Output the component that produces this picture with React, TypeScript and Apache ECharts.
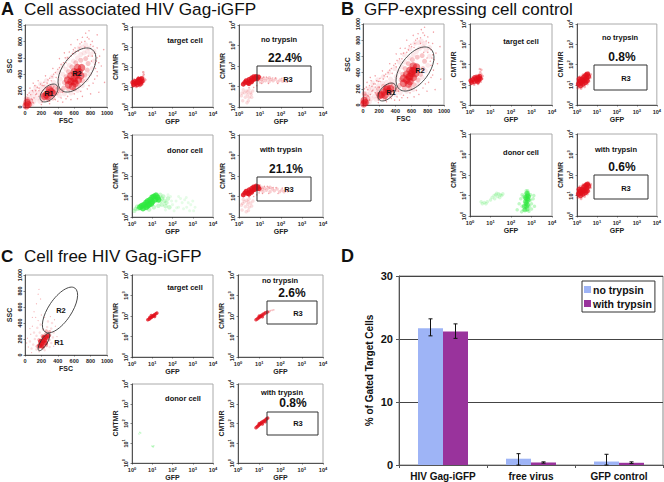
import React, { useEffect, useRef } from "react";
import * as echarts from "echarts";

type P = number[][];
const FONT = "Liberation Sans";
const RED = "#e2101c";
const GREEN = "#2ee83e";

// ---------- data ----------
const fscTicks = [0, 200, 400, 600, 800, 1000];

// Panel A, FSC / SSC
const aScDense: P = [[530,270],[560,310],[600,350],[630,390],[660,430],[690,480],[610,290],[650,330],[560,380],[600,430],[640,480],[520,330],[580,250],[680,380],[600,310],[640,420],[260,150],[290,170],[320,190],[340,170],[280,130],[240,130],[300,210],[15,15],[35,30],[25,55]];
const aScMid: P = [[470,230],[480,300],[500,370],[530,430],[570,490],[620,540],[680,570],[740,590],[770,530],[760,450],[730,390],[700,320],[650,260],[600,220],[530,220],[440,200],[400,220],[380,170],[370,240],[210,150],[220,100],[280,90],[340,110],[330,250],[260,220],[60,30],[70,70],[40,90],[15,100]];
const aScHaze: P = [[800,640],[760,680],[720,660],[680,640],[640,600],[590,560],[540,510],[500,460],[460,400],[430,340],[410,280],[350,300],[300,260],[250,250],[200,220],[170,170],[150,110],[180,70],[110,70],[100,130],[120,190],[90,40],[840,560],[820,470],[790,400],[750,330],[700,260],[640,200],[560,170],[480,160],[420,140],[740,760],[780,720],[700,730],[840,680],[660,720],[600,660],[520,590],[460,500],[400,420],[330,370],[260,320],[190,280],[130,240],[80,180],[50,120]];
const aScSpeck: P = [[700,850],[760,850],[820,800],[880,720],[910,620],[930,500],[880,430],[850,340],[780,260],[660,720],[620,680],[580,650],[520,600],[470,540],[420,480],[370,420],[330,370],[280,330],[230,300],[190,280],[150,240],[120,260],[90,200],[70,150],[50,170],[30,150],[780,930],[640,820],[560,760],[480,660],[880,880],[960,700],[970,300],[900,180],[800,160],[700,130],[640,100],[560,90],[460,60],[400,70],[300,40],[200,30],[420,590],[340,470],[250,380],[160,320],[100,290],[60,230]];
const aScGrain: P = [[730,800],[690,790],[800,760],[860,650],[870,560],[900,540],[860,470],[810,560],[770,620],[730,730],[650,680],[610,720],[560,620],[500,540],[440,520],[400,460],[350,400],[300,350],[210,260],[170,230],[130,200],[140,160],[110,110],[80,100],[60,60],[100,50],[210,60],[300,70],[370,90],[440,110],[520,130],[600,160],[680,190],[760,220],[830,290],[880,380],[780,830],[830,740],[740,900],[670,770],[590,700],[540,670],[490,600],[430,440],[380,360],[320,320],[270,290],[230,260],[170,130],[130,150],[90,90],[500,100],[410,180],[460,180],[350,200],[220,200],[170,200],[850,520],[820,620],[880,600]];

// Panel A, target cell
const aTargetCore: P = [[1.2,13],[1.4,19],[1.5,15],[1.8,13],[1.9,21],[2.2,16],[2.5,24],[2.8,18],[3,26],[2.3,20],[1.7,17],[1.1,17],[3.2,20],[2.6,14],[2.1,25]];
const aTargetHalo: P = [[1.1,11],[1.6,10],[2.4,11],[3.3,14],[4,19],[4,26],[3.5,33],[2.8,31],[2,30],[1.3,24],[4.6,23],[3.8,42],[3.6,55]];

// Panel A, no trypsin
const aNoCore: P = [[1.6,13],[1.9,16],[2.2,19],[2.6,15],[3,22],[3.5,18],[4,26],[4.5,21],[5,30],[5.5,23],[6.5,31],[7.5,24],[3,14],[4,17],[8.5,29],[6,26]];
const aNoMid: P = [[9,20],[11,27],[13,17],[15,25],[18,19],[22,24],[27,17],[33,22],[42,19],[55,23],[70,17],[90,21],[120,18],[160,19],[12,22],[28,27]];
const aNoLow: P = [[1.5,2],[2,3],[2.5,4],[1.8,5],[3,3],[2.2,6],[3.5,5],[2.8,2],[1.3,3.5],[4,3],[3,7],[1.6,7],[2.4,1.6],[4.5,6],[1.4,4.8],[2.6,5.4],[3.8,4.2]];
const aNoSpeck: P = [[10,15],[15,29],[25,14],[40,26],[70,14],[150,23],[200,16],[9,34],[20,29],[55,26],[12,14],[110,25],[250,19],[5,9],[7,11],[3,9],[190,21]];

// Panel A, donor cell
const aDonorCore: P = [[2.5,3],[3,3.5],[4,4],[5,5],[6,6],[8,7],[10,9],[12,10],[15,11],[18,9],[14,7],[10,5.5],[7,4],[5,3],[20,7],[3.5,2.6],[9,4.5],[6,3.6]];
const aDonorMid: P = [[25,6],[30,8],[40,6],[50,5],[30,4],[20,3.5],[12,3],[7,2.3],[2,2.5],[1.5,2.5],[1.3,2],[60,8],[70,3],[25,12],[1.8,3.2],[45,3.4],[35,10],[16,13]];
const aDonorHaze: P = [[100,4],[150,6],[200,3],[300,5],[500,3],[800,4],[1000,6],[120,2],[400,7],[80,10],[700,2],[45,2.2],[250,8],[600,5],[90,6],[160,2.8],[1300,3],[350,2.5],[1100,2],[60,12],[200,10],[480,9]];

// Panel A, with trypsin
const aWithCore: P = [[1.6,12],[1.9,15],[2.2,18],[2.6,14],[3,21],[3.5,17],[4,25],[4.5,20],[5,29],[5.5,22],[6.5,32],[7,24],[3,13],[4,16],[8,30],[9,24],[6,27]];
const aWithMid: P = [[10,20],[12,28],[14,17],[17,25],[20,20],[25,26],[30,17],[38,23],[48,19],[65,23],[85,17],[110,21],[140,17],[180,20],[13,23],[30,28]];
const aWithLow: P = [[1.4,2.2],[2,3.2],[2.6,4.2],[1.8,5.5],[3,3],[2.3,6.5],[3.6,4.8],[2.8,2.1],[1.3,3.8],[4,3.4],[3,7.5],[1.6,7.2],[2.2,1.8],[4.6,6],[1.5,4.6],[2.7,5.6]];
const aWithSpeck: P = [[9,15],[16,31],[26,14],[42,27],[72,14],[160,24],[210,17],[10,36],[22,31],[58,27],[13,14],[115,26],[240,20],[5,10],[7,12],[3,9.5]];

// Panel B, FSC / SSC
const bScDense: P = [[500,270],[540,310],[570,350],[600,390],[630,430],[660,470],[580,290],[620,340],[540,380],[580,430],[620,480],[500,330],[560,260],[650,390],[580,350],[610,420],[230,130],[260,160],[290,190],[320,170],[270,120],[210,120],[300,210],[340,200],[10,15],[25,30],[15,55]];
const bScMid: P = [[450,240],[470,310],[490,380],[520,450],[560,510],[610,560],[670,590],[730,610],[760,540],[740,450],[710,380],[680,310],[630,250],[580,210],[510,210],[420,190],[390,200],[370,240],[340,260],[180,140],[200,90],[270,80],[340,120],[250,230],[190,200],[50,30],[60,80],[30,110],[15,140]];
const bScHaze: P = [[780,680],[740,720],[700,700],[660,660],[620,620],[570,580],[520,530],[480,470],[440,410],[410,350],[390,290],[340,320],[290,280],[240,270],[190,240],[150,180],[140,110],[160,70],[100,80],[90,150],[110,210],[80,40],[820,600],[800,490],[770,420],[730,340],[680,260],[620,190],[540,170],[460,150],[400,130],[720,790],[760,760],[690,770],[820,710],[640,760],[580,690],[510,620],[450,530],[390,450],[320,400],[250,350],[180,310],[120,270],[70,200],[40,140]];
const bScSpeck: P = [[680,880],[740,890],[800,840],[860,760],[900,640],[920,510],[870,430],[840,340],[770,260],[640,760],[600,720],[560,680],[500,640],[450,570],[400,510],[350,450],[310,400],[260,360],[210,330],[170,300],[130,260],[100,300],[80,240],[60,190],[40,220],[20,200],[760,960],[620,860],[540,800],[460,700],[870,900],[950,720],[960,320],[890,190],[790,170],[690,130],[630,100],[550,90],[450,60],[390,60],[290,40],[190,30],[410,630],[330,510],[240,420],[150,360],[90,340],[50,280]];
const bScGrain: P = [[710,830],[670,820],[780,790],[840,680],[850,580],[880,560],[840,490],[790,580],[750,650],[710,760],[630,710],[590,750],[540,650],[480,570],[420,550],[380,490],[330,430],[280,380],[190,290],[150,260],[110,230],[120,180],[90,130],[60,120],[40,70],[80,60],[190,60],[280,60],[350,80],[420,100],[500,120],[580,150],[660,180],[740,210],[810,280],[860,370],[760,860],[810,770],[720,930],[650,800],[570,730],[520,700],[470,630],[410,470],[360,390],[300,350],[250,320],[210,290],[150,150],[110,170],[70,110],[480,90],[390,170],[440,170],[330,220],[200,220],[150,220],[830,540],[800,650],[860,620]];

// Panel B, target / no / with
const bTargetCore: P = [[1.2,13],[1.4,18],[1.6,14],[1.9,20],[2.1,16],[2.4,24],[2.7,17],[3,26],[3.2,20],[2.4,14],[1.7,23],[1.1,16],[2.8,22]];
const bTargetHalo: P = [[1.1,10.5],[1.6,10],[2.5,11],[3.4,14],[4,20],[4.2,27],[3.6,33],[3.2,42],[2.8,32],[2,29],[1.3,23],[3.6,55],[3,60]];
const bNoCore: P = [[1.2,11],[1.4,15],[1.6,13],[1.8,19],[2,16],[2.2,24],[2.5,17],[2.8,29],[3,21],[3.3,33],[1.5,9],[2,11],[1.3,19],[2.6,13],[3.7,26],[3.2,16]];
const bNoHalo: P = [[1.1,7],[1.6,6.5],[2.4,8],[3.3,11],[4,15],[4.6,22],[4.8,32],[3.8,39],[2.8,37],[2,31],[1.4,25],[1.1,15]];
const bWithCore: P = [[1.2,12],[1.4,16],[1.6,14],[1.8,20],[2,17],[2.2,26],[2.5,18],[2.8,31],[3,23],[3.3,35],[1.5,10],[2,12],[1.3,20],[2.6,14],[3.8,29],[3.2,17]];
const bWithHalo: P = [[1.1,8],[1.6,7],[2.4,9],[3.3,12],[4,16],[4.7,24],[4.8,35],[3.8,42],[2.8,39],[2,33],[1.4,27],[1.1,16]];
const bDonorCore: P = [[450,3],[500,5],[550,7],[600,9],[650,11],[600,5],[550,3],[700,6],[650,3.5],[500,8],[600,13],[620,2.2],[550,4],[700,9],[480,2],[650,7]];
const bDonorMid: P = [[200,2],[250,4],[300,7],[350,3],[400,9],[800,3],[900,6],[1000,4],[800,9],[1200,7],[400,2],[330,1.6],[750,1.7],[350,11],[1000,2.2],[1400,3],[700,14],[500,12],[550,17],[650,17],[1300,10],[900,11]];
const bDonorLeft: P = [[12,8],[15,10],[18,11],[22,9],[25,12],[30,11],[35,10],[16,7],[28,8],[10,6],[7,5],[5,4.5],[4,4],[3.5,5],[6,4],[20,13],[40,12]];

// Panel C, FSC / SSC
const cScDense: P = [[180,120],[200,140],[220,170],[240,190],[260,220],[280,240],[210,110],[250,150],[190,170],[230,220]];
const cScMid: P = [[150,110],[170,190],[210,240],[250,260],[300,250],[290,190],[260,120],[220,90],[170,90],[300,290],[260,300]];
const cScHaze: P = [[100,130],[120,200],[140,240],[180,280],[220,320],[270,350],[320,330],[350,280],[340,220],[320,150],[300,100],[240,60],[140,70],[80,80],[60,170],[110,280],[190,380],[280,420],[150,340],[330,400]];
const cScSpeck: P = [[40,100],[30,210],[70,260],[90,360],[160,430],[130,470],[200,500],[240,470],[310,480],[370,360],[390,230],[160,760],[170,820],[140,640],[110,540],[60,330],[20,150],[80,30],[170,40],[350,110],[400,170],[190,700],[90,470],[360,440]];

// Panel C, target / no / with / donor
const cTargetCore: P = [[6,65],[7,70],[8,80],[9,85],[10,95],[11,100],[12,110],[13,115],[15,130],[17,140],[9,105],[13,95],[7.5,85]];
const cNoCore: P = [[7,65],[8,72],[9,80],[10,85],[11,95],[12,100],[13,110],[15,120],[17,130],[20,145],[10,100],[14,92],[24,155]];
const cNoTail: P = [[28,170],[33,180],[40,190],[48,200],[24,130],[30,155],[18,160]];
const cWithCore: P = [[7,62],[8,70],[9,78],[10,88],[11,95],[12,105],[13,115],[15,125],[17,140],[20,155],[10,100],[14,95],[22,175],[25,190],[19,125]];
const cDonorSpeck: P = [[2.4,36],[2.7,33],[2.2,30],[10.7,7],[12,7.5],[11,6.5],[9.5,7.3]];

// Panel D
const barCategories = ["HIV Gag-iGFP", "free virus", "GFP control"];
const noTrypsin = [21.7, 1.0, 0.55];
const withTrypsin = [21.2, 0.4, 0.35];
const noTrypsinLow = [20.5, 0, 0];
const noTrypsinHigh = [23.2, 1.8, 1.7];
const withTrypsinLow = [20.1, 0.3, 0.25];
const withTrypsinHigh = [22.4, 0.5, 0.5];
const barTicks = [0, 10, 20, 30];

// ---------- layout helpers ----------
const grids: any[] = [];
const xAxes: any[] = [];
const yAxes: any[] = [];
const series: any[] = [];
const gfx: any[] = [];

const logFmt = (v: number) => `{b|10}{s|${Math.round(Math.log10(v))}}`;
const logRich = {
  b: { fontSize: 5.5, fontFamily: FONT, fontWeight: "bold", color: "#222" },
  s: { fontSize: 4, fontFamily: FONT, fontWeight: "bold", color: "#222", padding: [0, 0, 4, 0] },
};

function axisBase(name: string, gap: number, vertical: boolean) {
  return {
    name,
    nameLocation: "middle",
    nameGap: gap,
    nameTextStyle: { fontFamily: FONT, fontSize: 7, fontWeight: "bold", color: "#222" },
    axisLine: { show: true, onZero: false, lineStyle: { color: "#333", width: 0.8 } },
    axisTick: { show: true, length: 1.5, lineStyle: { color: "#333", width: 0.6 } },
    splitLine: { show: false },
    minorTick: { show: false },
    axisLabel: {
      fontFamily: FONT,
      fontSize: 5.5,
      fontWeight: "bold",
      color: "#222",
      margin: vertical ? 2.5 : 3,
      rotate: vertical ? 90 : 0,
      hideOverlap: false,
      showMinLabel: true,
      showMaxLabel: true,
    },
  };
}

function addPanel(box: number[], kind: "log" | "lin") {
  const [x0, y0, x1, y1] = box;
  const idx = grids.length;
  grids.push({
    show: true,
    borderColor: "#aaa",
    borderWidth: 1,
    backgroundColor: "transparent",
    left: x0,
    top: y0,
    width: x1 - x0,
    height: y1 - y0,
  });
  if (kind === "log") {
    const xb: any = axisBase("GFP", 10, false);
    const yb: any = axisBase("CMTMR", 13, true);
    const common = { type: "log", logBase: 10, min: 1, max: 10000 };
    xb.axisLabel.formatter = logFmt;
    xb.axisLabel.rich = logRich;
    yb.axisLabel.formatter = logFmt;
    yb.axisLabel.rich = logRich;
    xAxes.push({ ...common, ...xb, gridIndex: idx });
    yAxes.push({ ...common, ...yb, gridIndex: idx });
  } else {
    const xb: any = axisBase("FSC", 10, false);
    const yb: any = axisBase("SSC", 12, true);
    const common = { type: "value", min: fscTicks[0], max: fscTicks[fscTicks.length - 1], interval: fscTicks[1] };
    xb.axisLabel.formatter = (v: number) => String(v);
    yb.axisLabel.formatter = (v: number) => String(v);
    xAxes.push({ ...common, ...xb, gridIndex: idx });
    yAxes.push({ ...common, ...yb, gridIndex: idx });
  }
  return idx;
}

function dots(grid: number, pts: P, size: number, color: string, opacity: number) {
  series.push({
    type: "scatter",
    xAxisIndex: grid,
    yAxisIndex: grid,
    data: pts,
    symbol: "circle",
    symbolSize: size,
    silent: true,
    itemStyle: { color, opacity, borderWidth: 0 },
  });
}

function label(text: string, x: number, y: number, size: number, weight = "bold", align = "center") {
  gfx.push({
    type: "text",
    x,
    y,
    silent: true,
    z: 50,
    style: {
      text,
      fill: "#111",
      fontFamily: FONT,
      fontSize: size,
      fontWeight: weight,
      textAlign: align,
      textVerticalAlign: "middle",
    },
  });
}

function gateBox(x0: number, y0: number, x1: number, y1: number) {
  gfx.push({
    type: "rect",
    silent: true,
    z: 40,
    shape: { x: x0, y: y0, width: x1 - x0, height: y1 - y0 },
    style: { fill: "transparent", stroke: "#333", lineWidth: 1 },
  });
}

function gateEllipse(cx: number, cy: number, a: number, b: number, deg: number) {
  gfx.push({
    type: "ellipse",
    silent: true,
    z: 40,
    x: cx,
    y: cy,
    rotation: (deg * Math.PI) / 180,
    shape: { cx: 0, cy: 0, rx: a, ry: b },
    style: { fill: "transparent", stroke: "#333", lineWidth: 0.8 },
  });
}

// ---------- panel A ----------
const pa0 = addPanel([25, 25, 107, 107], "lin");
dots(pa0, aScHaze, 5, RED, 0.09);
dots(pa0, aScSpeck, 1.4, RED, 0.4);
dots(pa0, aScGrain, 1.4, RED, 0.4);
dots(pa0, aScMid, 5, RED, 0.24);
dots(pa0, aScDense, 7.5, RED, 0.55);
const pa1 = addPanel([132, 27, 213, 107], "log");
dots(pa1, aTargetHalo, 2.5, RED, 0.35);
dots(pa1, aTargetCore, 5, RED, 0.8);
const pa2 = addPanel([239, 25, 323, 107], "log");
dots(pa2, aNoLow, 3.5, RED, 0.14);
dots(pa2, aNoSpeck, 1.4, RED, 0.4);
dots(pa2, aNoMid, 3.5, RED, 0.2);
dots(pa2, aNoCore, 5, RED, 0.85);
const pa3 = addPanel([132, 135, 213, 217], "log");
dots(pa3, aDonorHaze, 3, GREEN, 0.12);
dots(pa3, aDonorMid, 4.5, GREEN, 0.25);
dots(pa3, aDonorCore, 6, GREEN, 0.8);
const pa4 = addPanel([239, 135, 323, 217], "log");
dots(pa4, aWithLow, 3.5, RED, 0.14);
dots(pa4, aWithSpeck, 1.4, RED, 0.4);
dots(pa4, aWithMid, 3.5, RED, 0.2);
dots(pa4, aWithCore, 5, RED, 0.85);
gateEllipse(77, 70, 25.5, 14, 53);
gateEllipse(49, 93, 11, 6.3, 45);
gateBox(257, 66, 311, 92);
gateBox(257, 177, 311, 201);
label("A", 1, 9, 18, "bold", "left");
label("Cell associated HIV Gag-iGFP", 24, 9, 17.2, "normal", "left");
label("R2", 77, 73, 7.5, "bold");
label("R1", 49, 93, 7.5, "bold");
label("target cell", 185, 40, 7.5);
label("no trypsin", 279, 39, 7.5);
label("22.4%", 285, 58, 12);
label("R3", 288, 79, 7.5);
label("donor cell", 185, 150, 7.5);
label("with trypsin", 281, 149, 7.5);
label("21.1%", 286, 169, 12);
label("R3", 289, 189, 7.5);

// ---------- panel B ----------
const pb0 = addPanel([363, 24, 444, 105], "lin");
dots(pb0, bScHaze, 5, RED, 0.09);
dots(pb0, bScSpeck, 1.4, RED, 0.4);
dots(pb0, bScGrain, 1.4, RED, 0.4);
dots(pb0, bScMid, 5, RED, 0.24);
dots(pb0, bScDense, 7.5, RED, 0.55);
const pb1 = addPanel([470, 24, 552, 105], "log");
dots(pb1, bTargetHalo, 2.5, RED, 0.3);
dots(pb1, bTargetCore, 5, RED, 0.75);
const pb2 = addPanel([577, 24, 660, 105], "log");
dots(pb2, bNoHalo, 3, RED, 0.3);
dots(pb2, bNoCore, 5.5, RED, 0.8);
const pb3 = addPanel([470, 134, 552, 216], "log");
dots(pb3, bDonorLeft, 3.5, GREEN, 0.2);
dots(pb3, bDonorMid, 3.5, GREEN, 0.3);
dots(pb3, bDonorCore, 5, GREEN, 0.55);
const pb4 = addPanel([577, 134, 660, 216], "log");
dots(pb4, bWithHalo, 3, RED, 0.3);
dots(pb4, bWithCore, 5.5, RED, 0.8);
gateEllipse(415, 69, 25.5, 14, 53);
gateEllipse(387, 92, 11, 6.3, 45);
gateBox(594, 65, 647, 90);
gateBox(594, 175, 648, 199);
label("B", 341, 9, 18, "bold", "left");
label("GFP-expressing cell control", 364, 9, 17, "normal", "left");
label("R2", 420, 70, 7.5);
label("R1", 391, 92, 7.5);
label("target cell", 521, 41, 7.5);
label("no trypsin", 620, 37, 7.5);
label("0.8%", 622, 57, 12);
label("R3", 626, 78, 7.5);
label("donor cell", 521, 152, 7.5);
label("with trypsin", 616, 149, 7.5);
label("0.6%", 622, 167, 12);
label("R3", 626, 188, 7.5);

// ---------- panel C ----------
const pc0 = addPanel([25, 275, 107, 355], "lin");
dots(pc0, cScSpeck, 1.2, RED, 0.3);
dots(pc0, cScHaze, 2.5, RED, 0.14);
dots(pc0, cScMid, 3.5, RED, 0.3);
dots(pc0, cScDense, 5, RED, 0.8);
const pc1 = addPanel([132, 275, 213, 357], "log");
dots(pc1, cTargetCore, 3.5, RED, 0.75);
const pc2 = addPanel([238, 275, 323, 357], "log");
dots(pc2, cNoTail, 1.6, RED, 0.3);
dots(pc2, cNoCore, 3.5, RED, 0.7);
const pc3 = addPanel([132, 384, 213, 467], "log");
dots(pc3, cDonorSpeck, 1.3, GREEN, 0.35);
const pc4 = addPanel([238, 384, 323, 467], "log");
dots(pc4, cWithCore, 3.5, RED, 0.75);
gateEllipse(60, 310, 26.5, 11.5, 56);
gateEllipse(44, 342, 10, 3.2, 59);
gateBox(267, 301, 317, 324);
gateBox(267, 412, 318, 435);
label("C", 1, 256, 17, "bold", "left");
label("Cell free HIV Gag-iGFP", 24, 256, 17, "normal", "left");
label("R2", 61, 310, 7.5);
label("R1", 59, 342, 7.5);
label("target cell", 185, 287, 7.5);
label("no trypsin", 280, 280, 7.5);
label("2.6%", 292, 293, 12);
label("R3", 298, 313, 7.5);
label("donor cell", 183, 398, 7.5);
label("with trypsin", 282, 392, 7.5);
label("0.8%", 293, 403, 12);
label("R3", 298, 423, 7.5);

// ---------- panel D ----------
label("D", 341, 256, 18, "bold", "left");
const dIdx = grids.length;
grids.push({ show: true, borderColor: "#888", borderWidth: 1, left: 399, top: 276, width: 264, height: 189 });
xAxes.push({
  type: "category",
  gridIndex: dIdx,
  data: barCategories,
  axisLine: { lineStyle: { color: "#555" } },
  axisTick: { show: true, length: 3, lineStyle: { color: "#555" } },
  axisLabel: { fontFamily: FONT, fontSize: 10, fontWeight: "bold", color: "#111", margin: 6, interval: 0 },
});
yAxes.push({
  type: "value",
  gridIndex: dIdx,
  min: barTicks[0],
  max: barTicks[barTicks.length - 1],
  interval: barTicks[1],
  name: "% of Gated Target Cells",
  nameLocation: "middle",
  nameGap: 25,
  nameTextStyle: { fontFamily: FONT, fontSize: 10, fontWeight: "bold", color: "#111" },
  axisLine: { show: true, lineStyle: { color: "#555" } },
  axisTick: { show: true, length: 3, lineStyle: { color: "#555" } },
  axisLabel: { fontFamily: FONT, fontSize: 11, fontWeight: "bold", color: "#111", margin: 6 },
  splitLine: { show: true, lineStyle: { color: "#444", width: 1 } },
});
const barColors = ["#9eb4f6", "#99339c"];
series.push(
  {
    type: "bar",
    name: "no trypsin",
    xAxisIndex: dIdx,
    yAxisIndex: dIdx,
    data: noTrypsin,
    barWidth: 25,
    barGap: "0%",
    itemStyle: { color: barColors[0] },
  },
  {
    type: "bar",
    name: "with trypsin",
    xAxisIndex: dIdx,
    yAxisIndex: dIdx,
    data: withTrypsin,
    barWidth: 25,
    barGap: "0%",
    itemStyle: { color: barColors[1] },
  },
);
function errorBars(low: number[], high: number[], offset: number) {
  series.push({
    type: "custom",
    xAxisIndex: dIdx,
    yAxisIndex: dIdx,
    silent: true,
    z: 10,
    data: low.map((l, i) => [i, l, high[i]]),
    renderItem: (_p: any, api: any) => {
      const a = api.coord([api.value(0), api.value(1)]);
      const b = api.coord([api.value(0), api.value(2)]);
      const x = a[0] + offset;
      const st = { stroke: "#111", lineWidth: 1, fill: "none" };
      const seg = (x1: number, y1: number, x2: number, y2: number) => ({
        type: "line",
        shape: { x1, y1, x2, y2 },
        style: st,
      });
      return {
        type: "group",
        children: [seg(x, a[1], x, b[1]), seg(x - 2, a[1], x + 2, a[1]), seg(x - 2, b[1], x + 2, b[1])],
      };
    },
  });
}
errorBars(noTrypsinLow, noTrypsinHigh, -12.5);
errorBars(withTrypsinLow, withTrypsinHigh, 12.5);

const option: any = {
  animation: false,
  backgroundColor: "#fff",
  textStyle: { fontFamily: FONT },
  legend: {
    show: true,
    data: ["no trypsin", "with trypsin"],
    orient: "vertical",
    left: 582,
    top: 281,
    itemWidth: 7,
    itemHeight: 7,
    itemGap: 3,
    padding: [3, 3, 3, 2],
    backgroundColor: "#fff",
    borderColor: "#333",
    borderWidth: 1,
    borderRadius: 0,
    selectedMode: false,
    icon: "rect",
    textStyle: { fontFamily: FONT, fontSize: 10.5, fontWeight: "bold", color: "#111", padding: [0, 0, 0, -3] },
  },
  grid: grids,
  xAxis: xAxes,
  yAxis: yAxes,
  series,
  graphic: { elements: gfx },
};

export default function App() {
  const ref = useRef<HTMLDivElement>(null);
  useEffect(() => {
    const chart = echarts.init(ref.current!, undefined, { renderer: "svg" });
    chart.setOption(option);
    return () => chart.dispose();
  }, []);
  return <div ref={ref} style={{ position: "absolute", left: 0, top: 0, width: 664, height: 482 }} />;
}
